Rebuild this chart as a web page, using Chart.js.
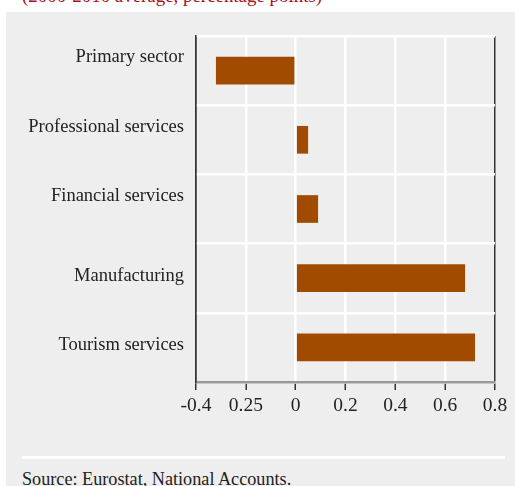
<!DOCTYPE html>
<html>
<head>
<meta charset="utf-8">
<script src="https://cdn.jsdelivr.net/npm/chart.js@4/dist/chart.umd.min.js"></script>
<style>
  html, body { margin: 0; padding: 0; background: #ffffff; overflow: hidden; }
  #page { position: relative; width: 515px; height: 486px; }
  #title { position: absolute; left: 22px; top: -13px; font: 18.9px/18px "Liberation Serif", serif; color: #a3121c; white-space: nowrap; }
  #panel { position: absolute; left: 6px; top: 12px; width: 509px; height: 474px; background: #eeeeee; overflow: hidden; }
  #wrap { position: absolute; left: 0; top: 0; width: 509px; height: 420px; }
  #rule { position: absolute; left: 16px; top: 444px; width: 483px; height: 3px; background: #ffffff; }
  #source { position: absolute; left: 16px; top: 458px; font: 18.2px/18px "Liberation Serif", serif; color: #222; white-space: nowrap; }
</style>
</head>
<body>
<div id="page">
  <div id="panel">
    <div id="wrap"><canvas id="barChart"></canvas></div>
    <div id="rule"></div>
    <div id="source">Source: Eurostat, National Accounts.</div>
  </div>
  <div id="title">(2000-2010 average, percentage points)</div>
</div>
<script>
// data
var sectors = ['Primary sector', 'Professional services', 'Financial services', 'Manufacturing', 'Tourism services'];
var contribution = [-0.32, 0.05, 0.09, 0.68, 0.72];
var tickValues = [-0.4, -0.2, 0, 0.2, 0.4, 0.6, 0.8];
var tickLabels = ['-0.4', '0.25', '0', '0.2', '0.4', '0.6', '0.8'];

document.addEventListener('DOMContentLoaded', function() {

  var ctx = document.getElementById('barChart').getContext('2d');

  // dark frame lines at both ends of the value axis, white grid inside
  function isEdge(c) {
    return c.index === 0 || c.index === tickValues.length - 1;
  }

  var chart = new Chart(ctx, {
    type: 'bar',
    data: {
      labels: sectors,
      datasets: [{
        data: contribution,
        backgroundColor: '#a04b00',
        borderWidth: 0,
        barPercentage: 0.4,
        categoryPercentage: 1
      }]
    },
    options: {
      indexAxis: 'y',
      responsive: true,
      maintainAspectRatio: false,
      animation: false,
      layout: {
        padding: { top: 24, right: 20, left: 0, bottom: 0 }
      },
      plugins: {
        legend: { display: false },
        tooltip: { enabled: false }
      },
      scales: {
        x: {
          min: -0.4,
          max: 0.8,
          afterBuildTicks: function(scale) {
            scale.ticks = tickValues.map(function(v) { return { value: v }; });
          },
          afterFit: function(scale) {
            scale.height = 50;
          },
          ticks: {
            color: '#222',
            padding: 4,
            maxRotation: 0,
            font: { family: '"Liberation Serif", serif', size: 19.5 },
            callback: function(value, index) {
              return tickLabels[index];
            }
          },
          grid: {
            color: function(c) { return isEdge(c) ? '#333333' : '#ffffff'; },
            lineWidth: function(c) { return isEdge(c) ? 1.5 : 2.5; },
            tickColor: '#333333',
            tickLength: 8,
            tickWidth: 1.5
          },
          border: { color: '#999999', width: 2.5 }
        },
        y: {
          afterFit: function(scale) {
            scale.width = 190;
          },
          ticks: {
            color: '#222',
            padding: 12,
            labelOffset: -2,
            font: { family: '"Liberation Serif", serif', size: 18.5 },
            callback: function(value, index) {
              var label = this.getLabelForValue(value);
              // the upper labels sit higher in the reference
              return index < 3 ? [label, ''] : label;
            }
          },
          grid: {
            color: '#ffffff',
            lineWidth: 2.5,
            drawTicks: false
          },
          border: { color: '#333333', width: 1.5 }
        }
      }
    }
  });

});
</script>
</body>
</html>
